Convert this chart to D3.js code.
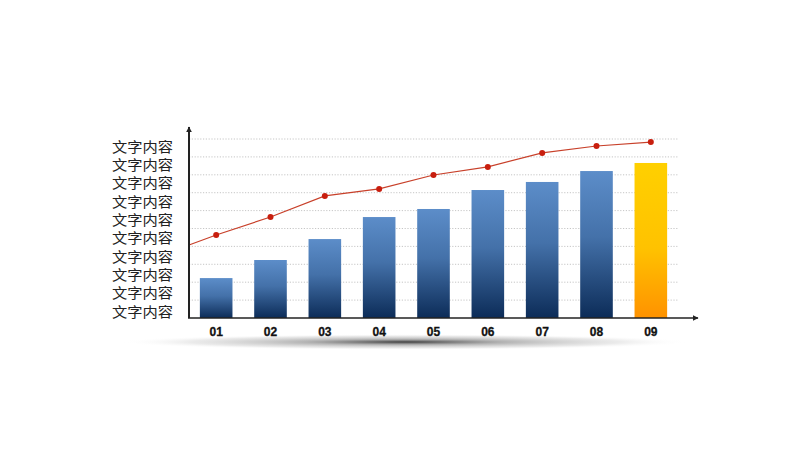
<!DOCTYPE html>
<html lang="zh">
<head>
<meta charset="UTF-8">
<title>Chart</title>
<style>
  body { margin: 0; background: #fff; }
  svg { display: block; }
</style>
</head>
<body>
<script src="https://d3js.org/d3.v7.min.js"></script>
<div id="chart"></div>
<script>
// data
var categories = ["01", "02", "03", "04", "05", "06", "07", "08", "09"];
var barValues = [2.23, 3.24, 4.41, 5.64, 6.09, 7.15, 7.6, 8.21, 8.66];
var lineStart = 4.08;   // where the line leaves the y axis
var lineValues = [4.64, 5.64, 6.82, 7.21, 7.99, 8.44, 9.22, 9.61, 9.83];
var yLabels = ["文字内容", "文字内容", "文字内容", "文字内容", "文字内容",
               "文字内容", "文字内容", "文字内容", "文字内容", "文字内容"];
var highlight = "09";

var W = 800, H = 449;
var plotL = 189, plotR = 678, plotB = 318, plotT = 139;

var svg = d3.select("#chart").append("svg")
  .attr("width", W)
  .attr("height", H);

var defs = svg.append("defs");

// bar gradients
var blue = defs.append("linearGradient").attr("id", "gBlue")
  .attr("x1", 0).attr("y1", 0).attr("x2", 0).attr("y2", 1);
blue.append("stop").attr("offset", "0%").attr("stop-color", "#5c8dc9");
blue.append("stop").attr("offset", "45%").attr("stop-color", "#4471a9");
blue.append("stop").attr("offset", "100%").attr("stop-color", "#0c2c58");

var gold = defs.append("linearGradient").attr("id", "gGold")
  .attr("x1", 0).attr("y1", 0).attr("x2", 0).attr("y2", 1);
gold.append("stop").attr("offset", "0%").attr("stop-color", "#ffd000");
gold.append("stop").attr("offset", "55%").attr("stop-color", "#ffc200");
gold.append("stop").attr("offset", "100%").attr("stop-color", "#ff9200");

// floor shadow
var shade = defs.append("radialGradient").attr("id", "gShade")
  .attr("cx", "50%").attr("cy", "50%").attr("r", "50%");
shade.append("stop").attr("offset", "0%").attr("stop-color", "#2a2a2a").attr("stop-opacity", 0.9);
shade.append("stop").attr("offset", "35%").attr("stop-color", "#777").attr("stop-opacity", 0.55);
shade.append("stop").attr("offset", "75%").attr("stop-color", "#bbb").attr("stop-opacity", 0.3);
shade.append("stop").attr("offset", "100%").attr("stop-color", "#fff").attr("stop-opacity", 0);

var arrow = defs.append("marker").attr("id", "arrow")
  .attr("viewBox", "0 0 10 10").attr("refX", 9).attr("refY", 5)
  .attr("markerWidth", 6).attr("markerHeight", 6)
  .attr("orient", "auto-start-reverse")
  .attr("markerUnits", "userSpaceOnUse");
arrow.append("path").attr("d", "M0,0 L10,5 L0,10 z").attr("fill", "#222");

// scales
var x = d3.scaleBand()
  .domain(categories)
  .range([plotL, plotR])
  .paddingInner(0.4)
  .paddingOuter(0.2);

var y = d3.scaleLinear()
  .domain([0, 10])
  .range([plotB, plotT]);

// label rows on the left are spaced a touch wider than the grid
var yl = d3.scaleBand()
  .domain(d3.range(yLabels.length))
  .range([138, 321]);

// shadow under the floor
svg.append("ellipse")
  .attr("cx", 405).attr("cy", 342)
  .attr("rx", 285).attr("ry", 8)
  .attr("fill", "url(#gShade)");

// dotted grid
svg.append("g")
  .selectAll("line")
  .data(d3.range(1, 11))
  .join("line")
    .attr("x1", plotL).attr("x2", plotR)
    .attr("y1", function(d) { return y(d); })
    .attr("y2", function(d) { return y(d); })
    .attr("stroke", "#b8b8b8")
    .attr("stroke-width", 0.8)
    .attr("stroke-dasharray", "1.2,1.6");

// bars
svg.append("g")
  .selectAll("rect")
  .data(categories)
  .join("rect")
    .attr("x", function(d) { return x(d); })
    .attr("y", function(d, i) { return y(barValues[i]); })
    .attr("width", x.bandwidth())
    .attr("height", function(d, i) { return y(0) - y(barValues[i]); })
    .attr("fill", function(d) { return d === highlight ? "url(#gGold)" : "url(#gBlue)"; });

// line
var pts = [[plotL, y(lineStart)]].concat(categories.map(function(c, i) {
  return [x(c) + x.bandwidth() / 2, y(lineValues[i])];
}));
svg.append("path")
  .attr("d", d3.line()(pts))
  .attr("fill", "none")
  .attr("stroke", "#c8402a")
  .attr("stroke-width", 1.2);

svg.append("g")
  .selectAll("circle")
  .data(categories)
  .join("circle")
    .attr("cx", function(d) { return x(d) + x.bandwidth() / 2; })
    .attr("cy", function(d, i) { return y(lineValues[i]); })
    .attr("r", 3)
    .attr("fill", "#c81e0e");

// axes with arrows
svg.append("line")
  .attr("x1", plotL).attr("y1", plotB)
  .attr("x2", plotL).attr("y2", 127)
  .attr("stroke", "#222").attr("stroke-width", 2)
  .attr("marker-end", "url(#arrow)");

svg.append("line")
  .attr("x1", plotL - 1).attr("y1", plotB)
  .attr("x2", 698).attr("y2", plotB)
  .attr("stroke", "#222").attr("stroke-width", 1.5)
  .attr("marker-end", "url(#arrow)");

// x tick labels
var xAxis = svg.append("g")
  .attr("transform", "translate(0," + plotB + ")")
  .call(d3.axisBottom(x).tickSize(0).tickPadding(9));
xAxis.select(".domain").remove();
xAxis.selectAll("text")
  .style("font-family", "'Liberation Sans', Arial, sans-serif")
  .style("font-size", "12px")
  .style("font-weight", "bold")
  .attr("fill", "#111")
  .attr("stroke", "#111")
  .attr("stroke-width", 0.3);

// y labels, stretched a little wider like the original
svg.append("g")
  .selectAll("text")
  .data(yLabels)
  .join("text")
    .attr("x", 112)
    .attr("y", function(d, i) { return yl(i) + yl.bandwidth() / 2; })
    .attr("dy", "0.35em")
    .attr("textLength", 61)
    .attr("lengthAdjust", "spacingAndGlyphs")
    .style("font-family", "'Noto Sans CJK SC', sans-serif")
    .style("font-size", "13.5px")
    .attr("fill", "#222")
    .text(function(d) { return d; });
</script>
</body>
</html>
